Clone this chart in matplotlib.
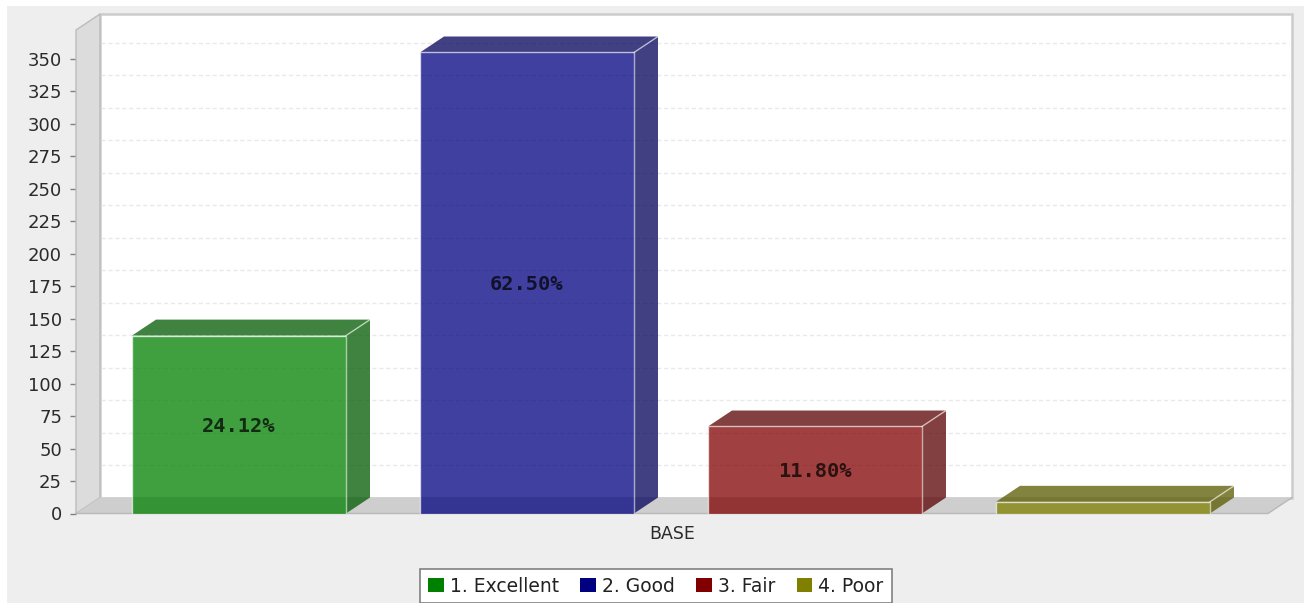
import matplotlib
matplotlib.use('Agg')
import matplotlib.pyplot as plt
from matplotlib.patches import Patch, Rectangle
from matplotlib.colors import to_rgb

labels = ['1. Excellent', '2. Good', '3. Fair', '4. Poor']
values = [137, 355, 67, 9]
pct_labels = ['24.12%', '62.50%', '11.80%', '']
colors = ['#008000', '#000080', '#800000', '#808000']
y_ticks = list(range(0, 351, 25))
category = 'BASE'

W, H = 1304, 603
fig = plt.figure(figsize=(W / 100, H / 100), dpi=100, facecolor='white')
fig.add_artist(Rectangle((7 / W, 0), 1, 1 - 6 / H, transform=fig.transFigure,
                         fc='#eeeeee', ec='none', zorder=-5))

# front plane of the fake 3d box, in pixels of the picture
ax = fig.add_axes([76 / W, (H - 513.5) / H, (1268 - 76) / W, (513.5 - 30) / H])
ax.patch.set_visible(False)
for s in ax.spines.values():
    s.set_visible(False)

bar_w = 214 / 288
x0, x1 = -0.566, 3.573
ymax = 372.3
dx = 24 / 288    # depth offset in data units
dy = 12.3
alpha = 0.75

# walls and floor
ax.fill([x0 + dx, x1 + dx, x1 + dx, x0 + dx], [dy, dy, ymax + dy, ymax + dy],
        fc='white', ec='#cccccc', lw=1.8, clip_on=False, zorder=1)
ax.fill([x0, x0 + dx, x0 + dx, x0], [0, dy, ymax + dy, ymax],
        fc='#dcdcdc', ec='#bcbcbc', lw=1, clip_on=False, zorder=2)
ax.fill([x0, x1, x1 + dx, x0 + dx], [0, 0, dy, dy],
        fc='#cecece', ec='none', clip_on=False, zorder=2)
ax.plot([x0, x1, x1 + dx], [0, 0, dy], color='#b8b8b8', lw=1, clip_on=False, zorder=2)

for t in y_ticks[1:]:
    ax.plot([x0 + dx + 0.003, x1 + dx - 0.01], [t + dy, t + dy], color='#ebe8eb',
            lw=1, ls=(0, (3, 2)), clip_on=False, zorder=1.5)

for i, v in enumerate(values):
    l = i - bar_w / 2
    r = i + bar_w / 2
    rgb = to_rgb(colors[i])
    dark = tuple(c * 0.7 for c in rgb)
    ax.fill([r, r + dx, r + dx, r], [0, dy, v + dy, v], fc=dark, alpha=alpha, ec='none', zorder=3)
    ax.fill([l, r, r + dx, l + dx], [v, v, v + dy, v + dy], fc=dark, alpha=alpha, ec='none', zorder=3)
    ax.bar(i, v, width=bar_w, color=rgb + (alpha,), edgecolor=(1, 1, 1, 0.6), lw=1, zorder=4)
    ax.plot([r, r + dx], [v, v + dy], color=(1, 1, 1, 0.6), lw=1, zorder=4)
    ax.annotate(pct_labels[i], (i, v / 2), xytext=(0, -1.2), textcoords='offset points',
                ha='center', va='center', fontsize=14.7, family='DejaVu Sans Mono',
                fontweight='bold', color=(0, 0, 0, 0.72), zorder=5)

ax.set_xlim(x0, x1)
ax.set_ylim(0, ymax)
ax.set_yticks(y_ticks)
ax.set_xticks([(x0 + x1) / 2])
ax.set_xticklabels([category])
ax.tick_params(axis='y', length=4, width=1, color='#808080', labelsize=13, pad=6, labelcolor='#2a2a2a')
ax.tick_params(axis='x', length=0, labelsize=12.5, pad=8, labelcolor='#2a2a2a')

handles = [Patch(fc=c, ec='none') for c in colors]
leg = fig.legend(handles, labels, ncol=4, loc='center', bbox_to_anchor=(656 / W, (H - 586) / H),
                 fontsize=13.5, frameon=True, fancybox=False, framealpha=1, facecolor='white',
                 edgecolor='#808080', handlelength=0.85, handleheight=0.85, handletextpad=0.32,
                 columnspacing=1.12, borderpad=0.42, borderaxespad=0, labelcolor='#222222')
leg.get_frame().set_linewidth(1.2)

fig.savefig('out.png', dpi=100)
